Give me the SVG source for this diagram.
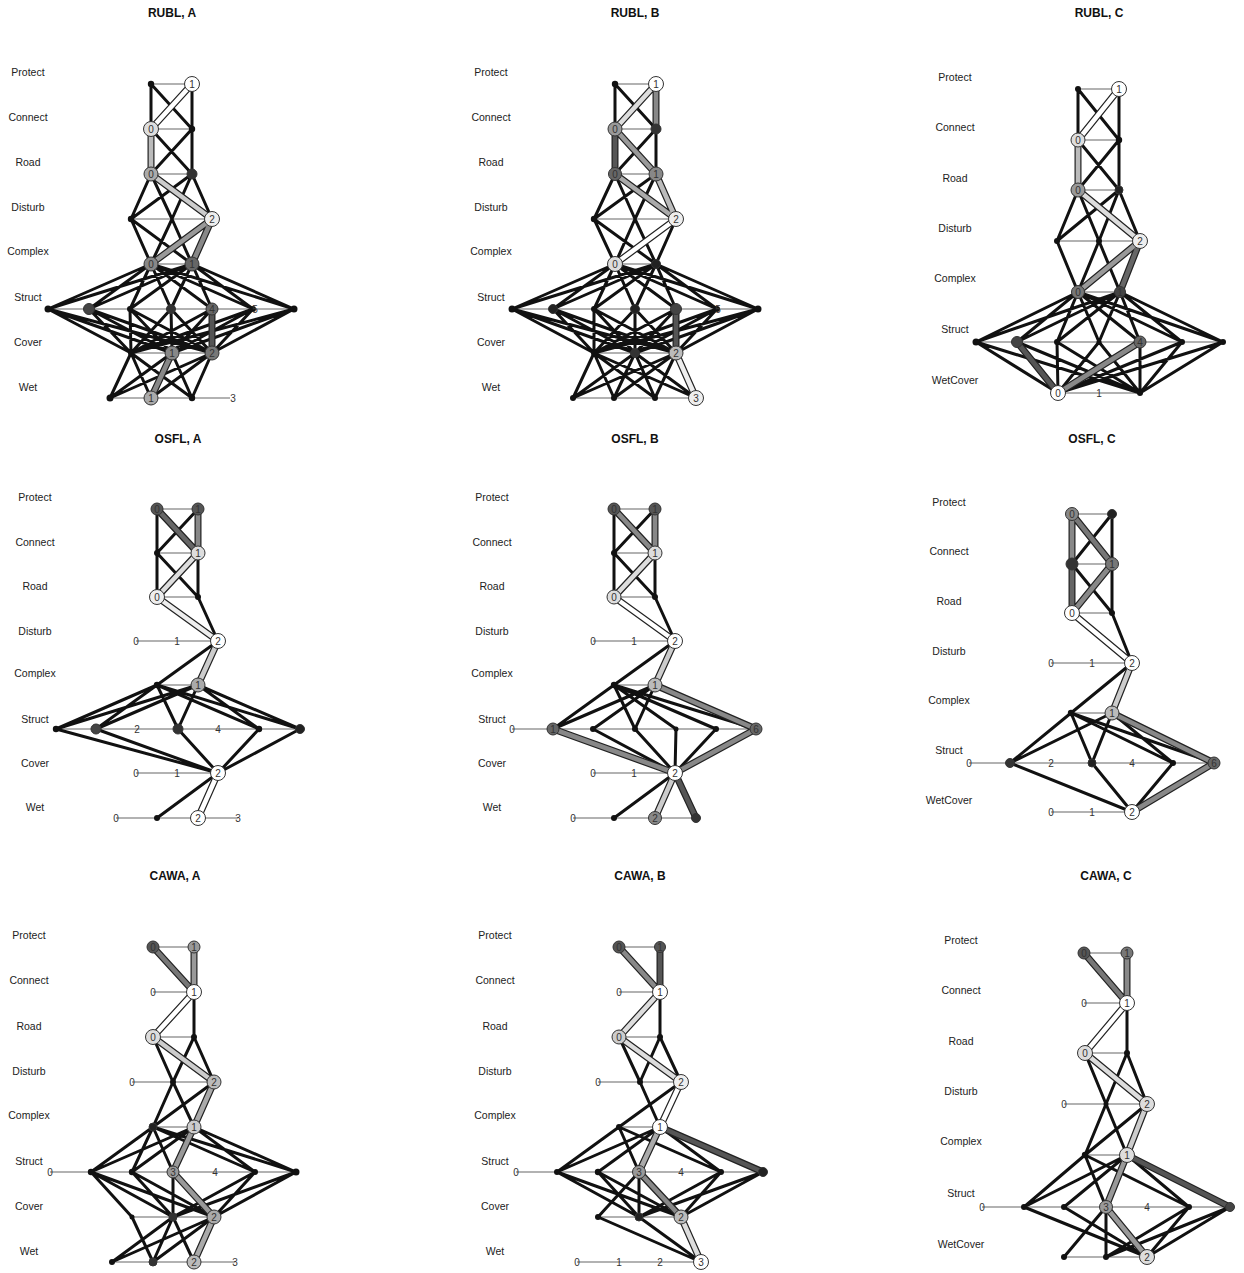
<svg xmlns="http://www.w3.org/2000/svg" width="1244" height="1273" viewBox="0 0 1244 1273">
<style>
.e{stroke:#111;stroke-width:3;fill:none;stroke-linecap:round}
.r{stroke:#666;stroke-width:1.2;fill:none}
.ho{stroke:#222;stroke-width:7;fill:none;stroke-linecap:round}
.hi{stroke-width:4.6;fill:none;stroke-linecap:round}
.s{fill:#111}
.b{stroke:#333;stroke-width:1}
.d{font-family:"Liberation Sans",Arial,sans-serif;font-size:10px;text-anchor:middle;fill:#333}
.lab{font-family:"Liberation Sans",Arial,sans-serif;font-size:10.5px;text-anchor:middle;fill:#222}
.t{font-family:"Liberation Sans",Arial,sans-serif;font-size:12px;font-weight:bold;text-anchor:middle;fill:#111}
</style>
<rect width="1244" height="1273" fill="#fff"/>
<g id="titles">
<text class="t" x="172" y="17">RUBL, A</text>
<text class="t" x="635" y="17">RUBL, B</text>
<text class="t" x="1099" y="17">RUBL, C</text>
<text class="t" x="178" y="443">OSFL, A</text>
<text class="t" x="635" y="443">OSFL, B</text>
<text class="t" x="1092" y="443">OSFL, C</text>
<text class="t" x="175" y="880">CAWA, A</text>
<text class="t" x="640" y="880">CAWA, B</text>
<text class="t" x="1106" y="880">CAWA, C</text>
</g>
<g id="row-labels">
<text class="lab" x="28" y="76">Protect</text><text class="lab" x="28" y="121">Connect</text><text class="lab" x="28" y="166">Road</text><text class="lab" x="28" y="211">Disturb</text><text class="lab" x="28" y="255">Complex</text><text class="lab" x="28" y="301">Struct</text><text class="lab" x="28" y="346">Cover</text><text class="lab" x="28" y="391">Wet</text>
<text class="lab" x="491" y="76">Protect</text><text class="lab" x="491" y="121">Connect</text><text class="lab" x="491" y="166">Road</text><text class="lab" x="491" y="211">Disturb</text><text class="lab" x="491" y="255">Complex</text><text class="lab" x="491" y="301">Struct</text><text class="lab" x="491" y="346">Cover</text><text class="lab" x="491" y="391">Wet</text>
<text class="lab" x="955" y="81">Protect</text><text class="lab" x="955" y="131">Connect</text><text class="lab" x="955" y="182">Road</text><text class="lab" x="955" y="232">Disturb</text><text class="lab" x="955" y="282">Complex</text><text class="lab" x="955" y="333">Struct</text><text class="lab" x="955" y="384">WetCover</text>
<text class="lab" x="35" y="501">Protect</text><text class="lab" x="35" y="546">Connect</text><text class="lab" x="35" y="590">Road</text><text class="lab" x="35" y="635">Disturb</text><text class="lab" x="35" y="677">Complex</text><text class="lab" x="35" y="723">Struct</text><text class="lab" x="35" y="767">Cover</text><text class="lab" x="35" y="811">Wet</text>
<text class="lab" x="492" y="501">Protect</text><text class="lab" x="492" y="546">Connect</text><text class="lab" x="492" y="590">Road</text><text class="lab" x="492" y="635">Disturb</text><text class="lab" x="492" y="677">Complex</text><text class="lab" x="492" y="723">Struct</text><text class="lab" x="492" y="767">Cover</text><text class="lab" x="492" y="811">Wet</text>
<text class="lab" x="949" y="506">Protect</text><text class="lab" x="949" y="555">Connect</text><text class="lab" x="949" y="605">Road</text><text class="lab" x="949" y="655">Disturb</text><text class="lab" x="949" y="704">Complex</text><text class="lab" x="949" y="754">Struct</text><text class="lab" x="949" y="804">WetCover</text>
<text class="lab" x="29" y="939">Protect</text><text class="lab" x="29" y="984">Connect</text><text class="lab" x="29" y="1030">Road</text><text class="lab" x="29" y="1075">Disturb</text><text class="lab" x="29" y="1119">Complex</text><text class="lab" x="29" y="1165">Struct</text><text class="lab" x="29" y="1210">Cover</text><text class="lab" x="29" y="1255">Wet</text>
<text class="lab" x="495" y="939">Protect</text><text class="lab" x="495" y="984">Connect</text><text class="lab" x="495" y="1030">Road</text><text class="lab" x="495" y="1075">Disturb</text><text class="lab" x="495" y="1119">Complex</text><text class="lab" x="495" y="1165">Struct</text><text class="lab" x="495" y="1210">Cover</text><text class="lab" x="495" y="1255">Wet</text>
<text class="lab" x="961" y="944">Protect</text><text class="lab" x="961" y="994">Connect</text><text class="lab" x="961" y="1045">Road</text><text class="lab" x="961" y="1095">Disturb</text><text class="lab" x="961" y="1145">Complex</text><text class="lab" x="961" y="1197">Struct</text><text class="lab" x="961" y="1248">WetCover</text>
</g>
<g id="connectors">
<!-- row lines -->
<path class="r" d="M151 84H192M151 129H192M151 174H192M131 219H212M151 264H192M48 309H294M131 353H212M110 398H230"/>
<path class="r" d="M615 84H656M615 129H656M615 174H656M594 219H676M615 264H656M512 309H758M594 353H676M573 398H696"/>
<path class="r" d="M1078 89H1119M1078 140H1119M1078 190H1119M1057 241H1140M1078 292H1120M976 342H1223M1058 393H1140"/>
<path class="r" d="M157 509H198M157 553H198M157 597H198M136 641H218M157 685H198M56 729H300M136 773H218M116 818H238"/>
<path class="r" d="M614 509H655M614 553H655M614 597H655M593 641H675M614 685H655M512 729H756M593 773H675M573 818H696"/>
<path class="r" d="M1072 514H1112M1072 564H1112M1072 613H1112M1051 663H1132M1071 713H1112M969 763H1214M1051 812H1132"/>
<path class="r" d="M153 947H194M153 992H194M153 1037H194M132 1082H214M153 1127H194M50 1172H296M132 1217H214M112 1262H235"/>
<path class="r" d="M619 947H660M619 992H660M619 1037H660M598 1082H681M619 1127H660M516 1172H763M598 1217H681M577 1262H701"/>
<path class="r" d="M1084 953H1127M1084 1003H1127M1085 1053H1127M1064 1104H1147M1085 1155H1127M982 1207H1230M1064 1257H1147"/>
<!-- RUBL A -->
<path class="e" d="M151 84L151 129M151 84L192 129M192 84L192 129M151 129L192 174M192 129L151 174M192 129L192 174M151 174L131 219M151 174L172 219M192 174L131 219M192 174L172 219M192 174L212 219M131 219L151 264M131 219L192 264M172 219L151 264M172 219L192 264M151 264L48 309M151 264L89 309M151 264L130 309M151 264L171 309M151 264L212 309M151 264L253 309M151 264L294 309M192 264L48 309M192 264L89 309M192 264L130 309M192 264L171 309M192 264L212 309M192 264L253 309M192 264L294 309M48 309L131 353M48 309L172 353M48 309L212 353M89 309L131 353M89 309L172 353M89 309L212 353M130 309L131 353M130 309L172 353M130 309L212 353M171 309L131 353M171 309L172 353M171 309L212 353M212 309L131 353M212 309L172 353M253 309L131 353M253 309L172 353M253 309L212 353M294 309L131 353M294 309L172 353M294 309L212 353M131 353L110 398M131 353L151 398M131 353L192 398M172 353L110 398M172 353L192 398M212 353L110 398M212 353L151 398M212 353L192 398"/>
<path class="ho" d="M192 84L151 129M151 129L151 174M151 174L212 219M212 219L151 264M212 219L192 264M212 309L212 353M172 353L151 398"/>
<line class="hi" stroke="#fff" x1="192" y1="84" x2="151" y2="129"/><line class="hi" stroke="#bbb" x1="151" y1="129" x2="151" y2="174"/><line class="hi" stroke="#ccc" x1="151" y1="174" x2="212" y2="219"/><line class="hi" stroke="#999" x1="212" y1="219" x2="151" y2="264"/><line class="hi" stroke="#888" x1="212" y1="219" x2="192" y2="264"/><line class="hi" stroke="#555" x1="212" y1="309" x2="212" y2="353"/><line class="hi" stroke="#888" x1="172" y1="353" x2="151" y2="398"/>
<!-- RUBL B -->
<path class="e" d="M615 84L615 129M615 84L656 129M656 129L615 174M656 129L656 174M615 174L594 219M615 174L635 219M656 174L594 219M656 174L635 219M594 219L615 264M594 219L656 264M635 219L615 264M635 219L656 264M676 219L656 264M615 264L512 309M615 264L553 309M615 264L594 309M615 264L635 309M615 264L676 309M615 264L717 309M615 264L758 309M656 264L512 309M656 264L553 309M656 264L594 309M656 264L635 309M656 264L676 309M656 264L717 309M656 264L758 309M512 309L594 353M512 309L635 353M512 309L676 353M553 309L594 353M553 309L635 353M553 309L676 353M594 309L594 353M594 309L635 353M594 309L676 353M635 309L594 353M635 309L635 353M635 309L676 353M676 309L594 353M676 309L635 353M717 309L594 353M717 309L635 353M717 309L676 353M758 309L594 353M758 309L635 353M758 309L676 353M594 353L573 398M594 353L614 398M594 353L655 398M594 353L696 398M635 353L573 398M635 353L614 398M635 353L655 398M635 353L696 398M676 353L573 398M676 353L614 398M676 353L655 398"/>
<path class="ho" d="M656 84L615 129M656 84L656 129M615 129L615 174M615 129L656 174M615 174L676 219M656 174L676 219M676 219L615 264M676 309L676 353M676 353L696 398"/>
<line class="hi" stroke="#ddd" x1="656" y1="84" x2="615" y2="129"/><line class="hi" stroke="#888" x1="656" y1="84" x2="656" y2="129"/><line class="hi" stroke="#555" x1="615" y1="129" x2="615" y2="174"/><line class="hi" stroke="#999" x1="615" y1="129" x2="656" y2="174"/><line class="hi" stroke="#aaa" x1="615" y1="174" x2="676" y2="219"/><line class="hi" stroke="#bbb" x1="656" y1="174" x2="676" y2="219"/><line class="hi" stroke="#fff" x1="676" y1="219" x2="615" y2="264"/><line class="hi" stroke="#555" x1="676" y1="309" x2="676" y2="353"/><line class="hi" stroke="#eee" x1="676" y1="353" x2="696" y2="398"/>
<!-- RUBL C -->
<path class="e" d="M1078 89L1078 140M1078 89L1119 140M1119 89L1119 140M1078 140L1119 190M1119 140L1078 190M1119 140L1119 190M1078 190L1057 241M1078 190L1099 241M1119 190L1057 241M1119 190L1099 241M1119 190L1140 241M1057 241L1078 292M1099 241L1078 292M1099 241L1120 292M1078 292L976 342M1078 292L1017 342M1078 292L1057 342M1078 292L1099 342M1078 292L1140 342M1078 292L1182 342M1078 292L1223 342M1120 292L976 342M1120 292L1017 342M1120 292L1057 342M1120 292L1099 342M1120 292L1140 342M1120 292L1182 342M1120 292L1223 342M976 342L1058 393M976 342L1140 393M1017 342L1140 393M1057 342L1058 393M1057 342L1140 393M1099 342L1058 393M1099 342L1140 393M1140 342L1140 393M1182 342L1058 393M1182 342L1140 393M1223 342L1058 393M1223 342L1140 393"/>
<path class="ho" d="M1119 89L1078 140M1078 140L1078 190M1078 190L1140 241M1140 241L1078 292M1140 241L1120 292M1017 342L1058 393M1140 342L1058 393"/>
<line class="hi" stroke="#fff" x1="1119" y1="89" x2="1078" y2="140"/><line class="hi" stroke="#bbb" x1="1078" y1="140" x2="1078" y2="190"/><line class="hi" stroke="#ddd" x1="1078" y1="190" x2="1140" y2="241"/><line class="hi" stroke="#999" x1="1140" y1="241" x2="1078" y2="292"/><line class="hi" stroke="#666" x1="1140" y1="241" x2="1120" y2="292"/><line class="hi" stroke="#555" x1="1017" y1="342" x2="1058" y2="393"/><line class="hi" stroke="#888" x1="1140" y1="342" x2="1058" y2="393"/>
<!-- OSFL A -->
<path class="e" d="M157 509L157 553M198 509L157 553M157 553L157 597M157 553L198 597M198 553L198 597M198 597L218 641M218 641L157 685M157 685L56 729M157 685L96 729M157 685L178 729M157 685L259 729M157 685L300 729M198 685L56 729M198 685L96 729M198 685L178 729M198 685L259 729M198 685L300 729M56 729L218 773M96 729L218 773M178 729L218 773M259 729L218 773M300 729L218 773M218 773L157 818"/>
<path class="ho" d="M157 509L198 553M198 509L198 553M198 553L157 597M157 597L218 641M218 641L198 685M218 773L198 818"/>
<line class="hi" stroke="#666" x1="157" y1="509" x2="198" y2="553"/><line class="hi" stroke="#888" x1="198" y1="509" x2="198" y2="553"/><line class="hi" stroke="#ddd" x1="198" y1="553" x2="157" y2="597"/><line class="hi" stroke="#eee" x1="157" y1="597" x2="218" y2="641"/><line class="hi" stroke="#ccc" x1="218" y1="641" x2="198" y2="685"/><line class="hi" stroke="#fff" x1="218" y1="773" x2="198" y2="818"/>
<!-- OSFL B -->
<path class="e" d="M614 509L614 553M655 509L614 553M614 553L614 597M614 553L655 597M655 553L655 597M655 597L675 641M675 641L614 685M614 685L553 729M614 685L635 729M614 685L676 729M614 685L716 729M614 685L756 729M655 685L553 729M655 685L593 729M655 685L635 729M593 729L675 773M635 729L675 773M676 729L675 773M716 729L675 773M675 773L614 818"/>
<path class="ho" d="M614 509L655 553M655 509L655 553M655 553L614 597M614 597L675 641M675 641L655 685M655 685L756 729M553 729L675 773M756 729L675 773M675 773L655 818M675 773L696 818"/>
<line class="hi" stroke="#888" x1="614" y1="509" x2="655" y2="553"/><line class="hi" stroke="#888" x1="655" y1="509" x2="655" y2="553"/><line class="hi" stroke="#ddd" x1="655" y1="553" x2="614" y2="597"/><line class="hi" stroke="#fff" x1="614" y1="597" x2="675" y2="641"/><line class="hi" stroke="#ccc" x1="675" y1="641" x2="655" y2="685"/><line class="hi" stroke="#888" x1="655" y1="685" x2="756" y2="729"/><line class="hi" stroke="#888" x1="553" y1="729" x2="675" y2="773"/><line class="hi" stroke="#888" x1="756" y1="729" x2="675" y2="773"/><line class="hi" stroke="#ccc" x1="675" y1="773" x2="655" y2="818"/><line class="hi" stroke="#555" x1="675" y1="773" x2="696" y2="818"/>
<!-- OSFL C -->
<path class="e" d="M1112 514L1072 564M1112 514L1112 564M1072 564L1112 613M1112 564L1112 613M1112 613L1132 663M1132 663L1071 713M1071 713L1010 763M1071 713L1092 763M1071 713L1173 763M1071 713L1214 763M1112 713L1010 763M1112 713L1092 763M1112 713L1173 763M1010 763L1132 812M1092 763L1132 812M1173 763L1132 812"/>
<path class="ho" d="M1072 514L1072 564M1072 514L1112 564M1072 564L1072 613M1112 564L1072 613M1072 613L1132 663M1132 663L1112 713M1112 713L1214 763M1214 763L1132 812"/>
<line class="hi" stroke="#888" x1="1072" y1="514" x2="1072" y2="564"/><line class="hi" stroke="#777" x1="1072" y1="514" x2="1112" y2="564"/><line class="hi" stroke="#666" x1="1072" y1="564" x2="1072" y2="613"/><line class="hi" stroke="#888" x1="1112" y1="564" x2="1072" y2="613"/><line class="hi" stroke="#fff" x1="1072" y1="613" x2="1132" y2="663"/><line class="hi" stroke="#ccc" x1="1132" y1="663" x2="1112" y2="713"/><line class="hi" stroke="#888" x1="1112" y1="713" x2="1214" y2="763"/><line class="hi" stroke="#888" x1="1214" y1="763" x2="1132" y2="812"/>
<!-- CAWA A -->
<path class="e" d="M194 992L194 1037M153 1037L173 1082M194 1037L173 1082M194 1037L214 1082M173 1082L153 1127M173 1082L194 1127M214 1082L153 1127M153 1127L91 1172M153 1127L132 1172M153 1127L173 1172M153 1127L255 1172M153 1127L296 1172M194 1127L91 1172M194 1127L132 1172M194 1127L255 1172M194 1127L296 1172M91 1172L132 1217M91 1172L173 1217M91 1172L214 1217M132 1172L173 1217M132 1172L214 1217M173 1172L173 1217M255 1172L173 1217M255 1172L214 1217M296 1172L173 1217M296 1172L214 1217M132 1217L153 1262M173 1217L112 1262M173 1217L153 1262M173 1217L194 1262M214 1217L112 1262M214 1217L153 1262"/>
<path class="ho" d="M153 947L194 992M194 947L194 992M194 992L153 1037M153 1037L214 1082M214 1082L194 1127M194 1127L173 1172M173 1172L214 1217M214 1217L194 1262"/>
<line class="hi" stroke="#777" x1="153" y1="947" x2="194" y2="992"/><line class="hi" stroke="#999" x1="194" y1="947" x2="194" y2="992"/><line class="hi" stroke="#fff" x1="194" y1="992" x2="153" y2="1037"/><line class="hi" stroke="#ccc" x1="153" y1="1037" x2="214" y2="1082"/><line class="hi" stroke="#aaa" x1="214" y1="1082" x2="194" y2="1127"/><line class="hi" stroke="#999" x1="194" y1="1127" x2="173" y2="1172"/><line class="hi" stroke="#999" x1="173" y1="1172" x2="214" y2="1217"/><line class="hi" stroke="#aaa" x1="214" y1="1217" x2="194" y2="1262"/>
<!-- CAWA B -->
<path class="e" d="M660 992L660 1037M619 1037L640 1082M660 1037L640 1082M660 1037L681 1082M640 1082L660 1127M681 1082L619 1127M619 1127L557 1172M619 1127L639 1172M619 1127L721 1172M660 1127L557 1172M660 1127L598 1172M660 1127L721 1172M557 1172L639 1217M557 1172L681 1217M598 1172L639 1217M598 1172L681 1217M639 1172L639 1217M639 1172L598 1217M721 1172L639 1217M721 1172L681 1217M763 1172L681 1217M763 1172L639 1217M598 1217L701 1262M639 1217L701 1262"/>
<path class="ho" d="M619 947L660 992M660 947L660 992M660 992L619 1037M619 1037L681 1082M681 1082L660 1127M660 1127L639 1172M660 1127L763 1172M639 1172L681 1217M681 1217L701 1262"/>
<line class="hi" stroke="#888" x1="619" y1="947" x2="660" y2="992"/><line class="hi" stroke="#555" x1="660" y1="947" x2="660" y2="992"/><line class="hi" stroke="#ddd" x1="660" y1="992" x2="619" y2="1037"/><line class="hi" stroke="#ddd" x1="619" y1="1037" x2="681" y2="1082"/><line class="hi" stroke="#fff" x1="681" y1="1082" x2="660" y2="1127"/><line class="hi" stroke="#aaa" x1="660" y1="1127" x2="639" y2="1172"/><line class="hi" stroke="#555" x1="660" y1="1127" x2="763" y2="1172"/><line class="hi" stroke="#888" x1="639" y1="1172" x2="681" y2="1217"/><line class="hi" stroke="#ddd" x1="681" y1="1217" x2="701" y2="1262"/>
<!-- CAWA C -->
<path class="e" d="M1127 1003L1127 1053M1085 1053L1106 1104M1127 1053L1106 1104M1127 1053L1147 1104M1106 1104L1127 1155M1106 1104L1085 1155M1147 1104L1085 1155M1085 1155L1024 1207M1085 1155L1106 1207M1085 1155L1189 1207M1127 1155L1024 1207M1127 1155L1064 1207M1127 1155L1189 1207M1024 1207L1147 1257M1064 1207L1147 1257M1106 1207L1106 1257M1106 1207L1064 1257M1189 1207L1147 1257M1189 1207L1106 1257M1230 1207L1147 1257M1230 1207L1106 1257"/>
<path class="ho" d="M1084 953L1127 1003M1127 953L1127 1003M1127 1003L1085 1053M1085 1053L1147 1104M1147 1104L1127 1155M1127 1155L1106 1207M1127 1155L1230 1207M1106 1207L1147 1257"/>
<line class="hi" stroke="#777" x1="1084" y1="953" x2="1127" y2="1003"/><line class="hi" stroke="#888" x1="1127" y1="953" x2="1127" y2="1003"/><line class="hi" stroke="#fff" x1="1127" y1="1003" x2="1085" y2="1053"/><line class="hi" stroke="#ddd" x1="1085" y1="1053" x2="1147" y2="1104"/><line class="hi" stroke="#ccc" x1="1147" y1="1104" x2="1127" y2="1155"/><line class="hi" stroke="#999" x1="1127" y1="1155" x2="1106" y2="1207"/><line class="hi" stroke="#555" x1="1127" y1="1155" x2="1230" y2="1207"/><line class="hi" stroke="#999" x1="1106" y1="1207" x2="1147" y2="1257"/>
</g>
<g id="nodes">
<!-- RUBL A -->
<g id="ra-p0"><circle class="s" cx="151" cy="84" r="3.2"/></g>
<g id="ra-p1"><circle class="b" cx="192" cy="84" r="7.5" fill="#fff"/><text class="d" x="192" y="87.5">1</text></g>
<g id="ra-c0"><circle class="b" cx="151" cy="129" r="7.5" fill="#ddd"/><text class="d" x="151" y="132.5">0</text></g>
<g id="ra-c1"><circle class="s" cx="192" cy="129" r="3.2"/></g>
<g id="ra-r0"><circle class="b" cx="151" cy="174" r="7" fill="#aaa"/><text class="d" x="151" y="177.5">0</text></g>
<g id="ra-r1"><circle class="b" cx="192" cy="174" r="5" fill="#333"/></g>
<g id="ra-d0"><circle class="s" cx="131" cy="219" r="3.2"/></g>
<g id="ra-d2"><circle class="b" cx="212" cy="219" r="7.5" fill="#eee"/><text class="d" x="212" y="222.5">2</text></g>
<g id="ra-x0"><circle class="b" cx="151" cy="264" r="7" fill="#888"/><text class="d" x="151" y="267.5">0</text></g>
<g id="ra-x1"><circle class="b" cx="192" cy="264" r="7" fill="#666"/><text class="d" x="192" y="267.5">1</text></g>
<g id="ra-s0"><circle class="s" cx="48" cy="309" r="3.5"/></g>
<g id="ra-s1"><circle class="b" cx="89" cy="309" r="5.5" fill="#444"/></g>
<g id="ra-s2"><circle class="s" cx="130" cy="309" r="3"/></g>
<g id="ra-s3"><circle class="b" cx="171" cy="309" r="4.5" fill="#333"/></g>
<g id="ra-s4"><circle class="b" cx="212" cy="309" r="6" fill="#666"/><text class="d" x="212" y="312.5">4</text></g>
<g id="ra-s5"><circle class="s" cx="253" cy="309" r="3"/><text class="d" x="255" y="312.5">5</text></g>
<g id="ra-s6"><circle class="s" cx="294" cy="309" r="3.5"/></g>
<g id="ra-v0"><circle class="s" cx="131" cy="353" r="3"/></g>
<g id="ra-v1"><circle class="b" cx="172" cy="353" r="7" fill="#888"/><text class="d" x="172" y="356.5">1</text></g>
<g id="ra-v2"><circle class="b" cx="212" cy="353" r="7" fill="#777"/><text class="d" x="212" y="356.5">2</text></g>
<g id="ra-w0"><circle class="s" cx="110" cy="398" r="3.5"/></g>
<g id="ra-w1"><circle class="b" cx="151" cy="398" r="7" fill="#aaa"/><text class="d" x="151" y="401.5">1</text></g>
<g id="ra-w2"><circle class="s" cx="192" cy="398" r="3.2"/></g>
<g id="ra-w3"><text class="d" x="233" y="401.5">3</text></g>
<!-- RUBL B -->
<g id="rb-p0"><circle class="s" cx="615" cy="84" r="3.2"/></g>
<g id="rb-p1"><circle class="b" cx="656" cy="84" r="7.5" fill="#fff"/><text class="d" x="656" y="87.5">1</text></g>
<g id="rb-c0"><circle class="b" cx="615" cy="129" r="7" fill="#999"/><text class="d" x="615" y="132.5">0</text></g>
<g id="rb-c1"><circle class="b" cx="656" cy="129" r="5" fill="#333"/></g>
<g id="rb-r0"><circle class="b" cx="615" cy="174" r="6.5" fill="#666"/><text class="d" x="615" y="177.5">0</text></g>
<g id="rb-r1"><circle class="b" cx="656" cy="174" r="7" fill="#888"/><text class="d" x="656" y="177.5">1</text></g>
<g id="rb-d0"><circle class="s" cx="594" cy="219" r="3.2"/></g>
<g id="rb-d2"><circle class="b" cx="676" cy="219" r="7.5" fill="#eee"/><text class="d" x="676" y="222.5">2</text></g>
<g id="rb-x0"><circle class="b" cx="615" cy="264" r="7.5" fill="#ddd"/><text class="d" x="615" y="267.5">0</text></g>
<g id="rb-x1"><circle class="b" cx="656" cy="264" r="4.5" fill="#222"/></g>
<g id="rb-s0"><circle class="s" cx="512" cy="309" r="3.5"/></g>
<g id="rb-s1"><circle class="b" cx="553" cy="309" r="4.5" fill="#222"/></g>
<g id="rb-s2"><circle class="s" cx="594" cy="309" r="3"/></g>
<g id="rb-s3"><circle class="b" cx="635" cy="309" r="4.5" fill="#222"/></g>
<g id="rb-s4"><circle class="b" cx="676" cy="309" r="5.5" fill="#444"/></g>
<g id="rb-s5"><circle class="s" cx="717" cy="309" r="3"/><text class="d" x="718" y="312.5">5</text></g>
<g id="rb-s6"><circle class="s" cx="758" cy="309" r="3.5"/></g>
<g id="rb-v0"><circle class="s" cx="594" cy="353" r="3"/></g>
<g id="rb-v1"><circle class="b" cx="635" cy="353" r="4.5" fill="#333"/></g>
<g id="rb-v2"><circle class="b" cx="676" cy="353" r="7" fill="#bbb"/><text class="d" x="676" y="356.5">2</text></g>
<g id="rb-w0"><circle class="s" cx="573" cy="398" r="3"/></g>
<g id="rb-w1"><circle class="s" cx="614" cy="398" r="3"/></g>
<g id="rb-w2"><circle class="s" cx="655" cy="398" r="3"/></g>
<g id="rb-w3"><circle class="b" cx="696" cy="398" r="7.5" fill="#eee"/><text class="d" x="696" y="401.5">3</text></g>
<!-- RUBL C -->
<g id="rc-p0"><circle class="s" cx="1078" cy="89" r="3"/></g>
<g id="rc-p1"><circle class="b" cx="1119" cy="89" r="7.5" fill="#fff"/><text class="d" x="1119" y="92.5">1</text></g>
<g id="rc-c0"><circle class="b" cx="1078" cy="140" r="7" fill="#ddd"/><text class="d" x="1078" y="143.5">0</text></g>
<g id="rc-c1"><circle class="s" cx="1119" cy="140" r="3.2"/></g>
<g id="rc-r0"><circle class="b" cx="1078" cy="190" r="7" fill="#999"/><text class="d" x="1078" y="193.5">0</text></g>
<g id="rc-r1"><circle class="b" cx="1119" cy="190" r="4" fill="#222"/></g>
<g id="rc-d0"><circle class="s" cx="1057" cy="241" r="3"/></g>
<g id="rc-d1"><circle class="s" cx="1099" cy="241" r="3"/></g>
<g id="rc-d2"><circle class="b" cx="1140" cy="241" r="7.5" fill="#eee"/><text class="d" x="1140" y="244.5">2</text></g>
<g id="rc-x0"><circle class="b" cx="1078" cy="292" r="6.5" fill="#777"/><text class="d" x="1078" y="295.5">0</text></g>
<g id="rc-x1"><circle class="b" cx="1120" cy="292" r="5.5" fill="#444"/><text class="d" x="1120" y="295.5">1</text></g>
<g id="rc-s0"><circle class="s" cx="976" cy="342" r="3.5"/></g>
<g id="rc-s1"><circle class="b" cx="1017" cy="342" r="5.5" fill="#444"/></g>
<g id="rc-s2"><circle class="s" cx="1057" cy="342" r="3"/></g>
<g id="rc-s3"><circle class="s" cx="1099" cy="342" r="2.5"/></g>
<g id="rc-s4"><circle class="b" cx="1140" cy="342" r="6" fill="#666"/><text class="d" x="1140" y="345.5">4</text></g>
<g id="rc-s5"><circle class="s" cx="1182" cy="342" r="3"/></g>
<g id="rc-s6"><circle class="s" cx="1223" cy="342" r="3"/></g>
<g id="rc-w0"><circle class="b" cx="1058" cy="393" r="7.5" fill="#fff"/><text class="d" x="1058" y="396.5">0</text></g>
<g id="rc-w1"><text class="d" x="1099" y="396.5">1</text></g>
<g id="rc-w2"><circle class="s" cx="1140" cy="393" r="3"/></g>
<!-- OSFL A -->
<g id="oa-p0"><circle class="b" cx="157" cy="509" r="6" fill="#555"/><text class="d" x="157" y="512.5">0</text></g>
<g id="oa-p1"><circle class="b" cx="198" cy="509" r="6" fill="#555"/><text class="d" x="198" y="512.5">1</text></g>
<g id="oa-c0"><circle class="s" cx="157" cy="553" r="3"/></g>
<g id="oa-c1"><circle class="b" cx="198" cy="553" r="7" fill="#ddd"/><text class="d" x="198" y="556.5">1</text></g>
<g id="oa-r0"><circle class="b" cx="157" cy="597" r="7.5" fill="#eee"/><text class="d" x="157" y="600.5">0</text></g>
<g id="oa-r1"><circle class="s" cx="198" cy="597" r="3"/></g>
<g id="oa-d0"><text class="d" x="136" y="644.5">0</text></g>
<g id="oa-d1"><text class="d" x="177" y="644.5">1</text></g>
<g id="oa-d2"><circle class="b" cx="218" cy="641" r="7.5" fill="#fff"/><text class="d" x="218" y="644.5">2</text></g>
<g id="oa-x0"><circle class="s" cx="157" cy="685" r="3.2"/></g>
<g id="oa-x1"><circle class="b" cx="198" cy="685" r="7" fill="#aaa"/><text class="d" x="198" y="688.5">1</text></g>
<g id="oa-s0"><circle class="s" cx="56" cy="729" r="3.2"/></g>
<g id="oa-s1"><circle class="b" cx="96" cy="729" r="5" fill="#444"/></g>
<g id="oa-s2"><text class="d" x="137" y="732.5">2</text></g>
<g id="oa-s3"><circle class="b" cx="178" cy="729" r="5" fill="#333"/></g>
<g id="oa-s4"><text class="d" x="218" y="732.5">4</text></g>
<g id="oa-s5"><circle class="s" cx="259" cy="729" r="3.2"/></g>
<g id="oa-s6"><circle class="b" cx="300" cy="729" r="4.5" fill="#222"/></g>
<g id="oa-v0"><text class="d" x="136" y="776.5">0</text></g>
<g id="oa-v1"><text class="d" x="177" y="776.5">1</text></g>
<g id="oa-v2"><circle class="b" cx="218" cy="773" r="7.5" fill="#fff"/><text class="d" x="218" y="776.5">2</text></g>
<g id="oa-w0"><text class="d" x="116" y="821.5">0</text></g>
<g id="oa-w1"><circle class="s" cx="157" cy="818" r="3"/></g>
<g id="oa-w2"><circle class="b" cx="198" cy="818" r="7.5" fill="#fff"/><text class="d" x="198" y="821.5">2</text></g>
<g id="oa-w3"><text class="d" x="238" y="821.5">3</text></g>
<!-- OSFL B -->
<g id="ob-p0"><circle class="b" cx="614" cy="509" r="6" fill="#555"/><text class="d" x="614" y="512.5">0</text></g>
<g id="ob-p1"><circle class="b" cx="655" cy="509" r="6" fill="#555"/><text class="d" x="655" y="512.5">1</text></g>
<g id="ob-c0"><circle class="s" cx="614" cy="553" r="3"/></g>
<g id="ob-c1"><circle class="b" cx="655" cy="553" r="7" fill="#ddd"/><text class="d" x="655" y="556.5">1</text></g>
<g id="ob-r0"><circle class="b" cx="614" cy="597" r="7" fill="#ddd"/><text class="d" x="614" y="600.5">0</text></g>
<g id="ob-r1"><circle class="s" cx="655" cy="597" r="3"/></g>
<g id="ob-d0"><text class="d" x="593" y="644.5">0</text></g>
<g id="ob-d1"><text class="d" x="634" y="644.5">1</text></g>
<g id="ob-d2"><circle class="b" cx="675" cy="641" r="7.5" fill="#fff"/><text class="d" x="675" y="644.5">2</text></g>
<g id="ob-x0"><circle class="s" cx="614" cy="685" r="3.2"/></g>
<g id="ob-x1"><circle class="b" cx="655" cy="685" r="7" fill="#bbb"/><text class="d" x="655" y="688.5">1</text></g>
<g id="ob-s0"><text class="d" x="512" y="732.5">0</text></g>
<g id="ob-s1"><circle class="b" cx="553" cy="729" r="6" fill="#666"/><text class="d" x="553" y="732.5">1</text></g>
<g id="ob-s2"><circle class="s" cx="593" cy="729" r="3"/></g>
<g id="ob-s3"><circle class="s" cx="635" cy="729" r="3"/></g>
<g id="ob-s4"><circle class="s" cx="676" cy="729" r="2.5"/></g>
<g id="ob-s5"><circle class="s" cx="716" cy="729" r="3"/></g>
<g id="ob-s6"><circle class="b" cx="756" cy="729" r="6" fill="#666"/><text class="d" x="756" y="732.5">6</text></g>
<g id="ob-v0"><text class="d" x="593" y="776.5">0</text></g>
<g id="ob-v1"><text class="d" x="634" y="776.5">1</text></g>
<g id="ob-v2"><circle class="b" cx="675" cy="773" r="7.5" fill="#fff"/><text class="d" x="675" y="776.5">2</text></g>
<g id="ob-w0"><text class="d" x="573" y="821.5">0</text></g>
<g id="ob-w1"><circle class="s" cx="614" cy="818" r="3"/></g>
<g id="ob-w2"><circle class="b" cx="655" cy="818" r="6.5" fill="#888"/><text class="d" x="655" y="821.5">2</text></g>
<g id="ob-w3"><circle class="b" cx="696" cy="818" r="4.5" fill="#333"/></g>
<!-- OSFL C -->
<g id="oc-p0"><circle class="b" cx="1072" cy="514" r="6.5" fill="#888"/><text class="d" x="1072" y="517.5">0</text></g>
<g id="oc-p1"><circle class="b" cx="1112" cy="514" r="4.5" fill="#222"/></g>
<g id="oc-c0"><circle class="b" cx="1072" cy="564" r="6" fill="#333"/><text class="d" x="1072" y="567.5">0</text></g>
<g id="oc-c1"><circle class="b" cx="1112" cy="564" r="6.5" fill="#777"/><text class="d" x="1112" y="567.5">1</text></g>
<g id="oc-r0"><circle class="b" cx="1072" cy="613" r="7.5" fill="#fff"/><text class="d" x="1072" y="616.5">0</text></g>
<g id="oc-r1"><circle class="s" cx="1112" cy="613" r="3"/></g>
<g id="oc-d0"><text class="d" x="1051" y="666.5">0</text></g>
<g id="oc-d1"><text class="d" x="1092" y="666.5">1</text></g>
<g id="oc-d2"><circle class="b" cx="1132" cy="663" r="7.5" fill="#fff"/><text class="d" x="1132" y="666.5">2</text></g>
<g id="oc-x0"><circle class="s" cx="1071" cy="713" r="3.2"/></g>
<g id="oc-x1"><circle class="b" cx="1112" cy="713" r="7" fill="#bbb"/><text class="d" x="1112" y="716.5">1</text></g>
<g id="oc-s0"><text class="d" x="969" y="766.5">0</text></g>
<g id="oc-s1"><circle class="b" cx="1010" cy="763" r="4.5" fill="#333"/></g>
<g id="oc-s2"><text class="d" x="1051" y="766.5">2</text></g>
<g id="oc-s3"><circle class="b" cx="1092" cy="763" r="4" fill="#222"/></g>
<g id="oc-s4"><text class="d" x="1132" y="766.5">4</text></g>
<g id="oc-s5"><circle class="s" cx="1173" cy="763" r="3"/></g>
<g id="oc-s6"><circle class="b" cx="1214" cy="763" r="6" fill="#666"/><text class="d" x="1214" y="766.5">6</text></g>
<g id="oc-w0"><text class="d" x="1051" y="815.5">0</text></g>
<g id="oc-w1"><text class="d" x="1092" y="815.5">1</text></g>
<g id="oc-w2"><circle class="b" cx="1132" cy="812" r="7.5" fill="#fff"/><text class="d" x="1132" y="815.5">2</text></g>
<!-- CAWA A -->
<g id="ca-p0"><circle class="b" cx="153" cy="947" r="6" fill="#555"/><text class="d" x="153" y="950.5">0</text></g>
<g id="ca-p1"><circle class="b" cx="194" cy="947" r="6" fill="#999"/><text class="d" x="194" y="950.5">1</text></g>
<g id="ca-c0"><text class="d" x="153" y="995.5">0</text></g>
<g id="ca-c1"><circle class="b" cx="194" cy="992" r="7.5" fill="#fff"/><text class="d" x="194" y="995.5">1</text></g>
<g id="ca-r0"><circle class="b" cx="153" cy="1037" r="7.5" fill="#ddd"/><text class="d" x="153" y="1040.5">0</text></g>
<g id="ca-r1"><circle class="s" cx="194" cy="1037" r="3"/></g>
<g id="ca-d0"><text class="d" x="132" y="1085.5">0</text></g>
<g id="ca-d1"><circle class="s" cx="173" cy="1082" r="3"/></g>
<g id="ca-d2"><circle class="b" cx="214" cy="1082" r="7" fill="#bbb"/><text class="d" x="214" y="1085.5">2</text></g>
<g id="ca-x0"><circle class="b" cx="153" cy="1127" r="4" fill="#222"/></g>
<g id="ca-x1"><circle class="b" cx="194" cy="1127" r="7" fill="#ccc"/><text class="d" x="194" y="1130.5">1</text></g>
<g id="ca-s0"><text class="d" x="50" y="1175.5">0</text></g>
<g id="ca-s1"><circle class="s" cx="91" cy="1172" r="3.2"/></g>
<g id="ca-s2"><circle class="s" cx="132" cy="1172" r="3.2"/></g>
<g id="ca-s3"><circle class="b" cx="173" cy="1172" r="6" fill="#999"/><text class="d" x="173" y="1175.5">3</text></g>
<g id="ca-s4"><text class="d" x="215" y="1175.5">4</text></g>
<g id="ca-s5"><circle class="s" cx="255" cy="1172" r="3"/></g>
<g id="ca-s6"><circle class="s" cx="296" cy="1172" r="3.5"/></g>
<g id="ca-v0"><circle class="s" cx="132" cy="1217" r="2.5"/></g>
<g id="ca-v1"><circle class="b" cx="173" cy="1217" r="4" fill="#333"/></g>
<g id="ca-v2"><circle class="b" cx="214" cy="1217" r="7" fill="#aaa"/><text class="d" x="214" y="1220.5">2</text></g>
<g id="ca-w0"><circle class="s" cx="112" cy="1262" r="3"/></g>
<g id="ca-w1"><circle class="b" cx="153" cy="1262" r="4" fill="#333"/></g>
<g id="ca-w2"><circle class="b" cx="194" cy="1262" r="7" fill="#bbb"/><text class="d" x="194" y="1265.5">2</text></g>
<g id="ca-w3"><text class="d" x="235" y="1265.5">3</text></g>
<!-- CAWA B -->
<g id="cb-p0"><circle class="b" cx="619" cy="947" r="6" fill="#555"/><text class="d" x="619" y="950.5">0</text></g>
<g id="cb-p1"><circle class="b" cx="660" cy="947" r="5.5" fill="#555"/><text class="d" x="660" y="950.5">1</text></g>
<g id="cb-c0"><text class="d" x="619" y="995.5">0</text></g>
<g id="cb-c1"><circle class="b" cx="660" cy="992" r="7.5" fill="#fff"/><text class="d" x="660" y="995.5">1</text></g>
<g id="cb-r0"><circle class="b" cx="619" cy="1037" r="7" fill="#ccc"/><text class="d" x="619" y="1040.5">0</text></g>
<g id="cb-r1"><circle class="s" cx="660" cy="1037" r="3"/></g>
<g id="cb-d0"><text class="d" x="598" y="1085.5">0</text></g>
<g id="cb-d1"><circle class="s" cx="640" cy="1082" r="3"/></g>
<g id="cb-d2"><circle class="b" cx="681" cy="1082" r="7.5" fill="#eee"/><text class="d" x="681" y="1085.5">2</text></g>
<g id="cb-x0"><circle class="s" cx="619" cy="1127" r="3"/></g>
<g id="cb-x1"><circle class="b" cx="660" cy="1127" r="7.5" fill="#fff"/><text class="d" x="660" y="1130.5">1</text></g>
<g id="cb-s0"><text class="d" x="516" y="1175.5">0</text></g>
<g id="cb-s1"><circle class="s" cx="557" cy="1172" r="3"/></g>
<g id="cb-s2"><circle class="s" cx="598" cy="1172" r="3.2"/></g>
<g id="cb-s3"><circle class="b" cx="639" cy="1172" r="6.5" fill="#999"/><text class="d" x="639" y="1175.5">3</text></g>
<g id="cb-s4"><text class="d" x="681" y="1175.5">4</text></g>
<g id="cb-s5"><circle class="s" cx="721" cy="1172" r="3"/></g>
<g id="cb-s6"><circle class="b" cx="763" cy="1172" r="4.5" fill="#222"/></g>
<g id="cb-v0"><circle class="s" cx="598" cy="1217" r="3"/></g>
<g id="cb-v1"><circle class="b" cx="639" cy="1217" r="4" fill="#222"/></g>
<g id="cb-v2"><circle class="b" cx="681" cy="1217" r="7" fill="#bbb"/><text class="d" x="681" y="1220.5">2</text></g>
<g id="cb-w0"><text class="d" x="577" y="1265.5">0</text></g>
<g id="cb-w1"><text class="d" x="619" y="1265.5">1</text></g>
<g id="cb-w2"><text class="d" x="660" y="1265.5">2</text></g>
<g id="cb-w3"><circle class="b" cx="701" cy="1262" r="7.5" fill="#fff"/><text class="d" x="701" y="1265.5">3</text></g>
<!-- CAWA C -->
<g id="cc-p0"><circle class="b" cx="1084" cy="953" r="6" fill="#555"/><text class="d" x="1084" y="956.5">0</text></g>
<g id="cc-p1"><circle class="b" cx="1127" cy="953" r="6" fill="#777"/><text class="d" x="1127" y="956.5">1</text></g>
<g id="cc-c0"><text class="d" x="1084" y="1006.5">0</text></g>
<g id="cc-c1"><circle class="b" cx="1127" cy="1003" r="7.5" fill="#fff"/><text class="d" x="1127" y="1006.5">1</text></g>
<g id="cc-r0"><circle class="b" cx="1085" cy="1053" r="7.5" fill="#ddd"/><text class="d" x="1085" y="1056.5">0</text></g>
<g id="cc-r1"><circle class="s" cx="1127" cy="1053" r="3"/></g>
<g id="cc-d0"><text class="d" x="1064" y="1107.5">0</text></g>
<g id="cc-d1"><circle class="s" cx="1106" cy="1104" r="2.5"/></g>
<g id="cc-d2"><circle class="b" cx="1147" cy="1104" r="7.5" fill="#ddd"/><text class="d" x="1147" y="1107.5">2</text></g>
<g id="cc-x0"><circle class="s" cx="1085" cy="1155" r="3.2"/></g>
<g id="cc-x1"><circle class="b" cx="1127" cy="1155" r="7.5" fill="#ddd"/><text class="d" x="1127" y="1158.5">1</text></g>
<g id="cc-s0"><text class="d" x="982" y="1210.5">0</text></g>
<g id="cc-s1"><circle class="s" cx="1024" cy="1207" r="3"/></g>
<g id="cc-s2"><circle class="s" cx="1064" cy="1207" r="3"/></g>
<g id="cc-s3"><circle class="b" cx="1106" cy="1207" r="6.5" fill="#999"/><text class="d" x="1106" y="1210.5">3</text></g>
<g id="cc-s4"><text class="d" x="1147" y="1210.5">4</text></g>
<g id="cc-s5"><circle class="s" cx="1189" cy="1207" r="3"/></g>
<g id="cc-s6"><circle class="b" cx="1230" cy="1207" r="4.5" fill="#444"/></g>
<g id="cc-w0"><circle class="s" cx="1064" cy="1257" r="3"/></g>
<g id="cc-w1"><circle class="s" cx="1106" cy="1257" r="3"/></g>
<g id="cc-w2"><circle class="b" cx="1147" cy="1257" r="7.5" fill="#ddd"/><text class="d" x="1147" y="1260.5">2</text></g>
</g>
</svg>
